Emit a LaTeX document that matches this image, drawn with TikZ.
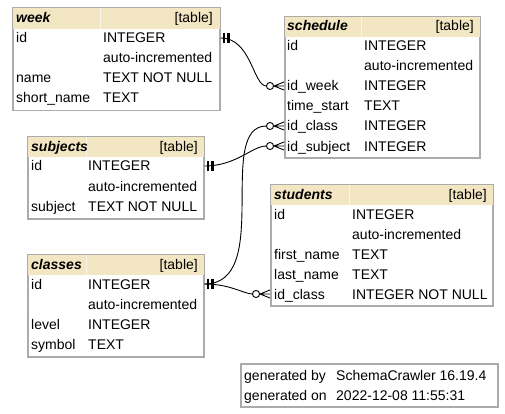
\documentclass[tikz,border=0pt]{standalone}
\usepackage{fontspec}
\setmainfont{Liberation Sans}
\usetikzlibrary{arrows.meta}
\definecolor{headtan}{HTML}{F2E6C3}
\definecolor{boxgray}{HTML}{ABABAB}

\begin{document}
\begin{tikzpicture}[
    x=1pt,
    y=-1pt,
    every node/.style={font=\fontsize{14}{16}\selectfont, inner sep=0pt},
    tbox/.style={draw=boxgray, line width=1.5pt, fill=white, anchor=north west},
    cell/.style={anchor=west, text height=10pt, text depth=0pt},
    tname/.style={cell, font=\fontsize{14}{16}\selectfont\bfseries\itshape},
    ttag/.style={anchor=east, text height=10pt, text depth=0pt},
    headfill/.style={fill=headtan},
    headsep/.style={draw=headtan!35!white, line width=0.8pt},
    rel/.style={draw, line width=0.9pt, -{Circle[open,length=8pt,width=8pt]}, shorten >=10pt},
    bars/.pic={\draw[line width=2.6pt] (3.5,-5) -- (3.5,5) (7.7,-5) -- (7.7,5);},
    crow/.pic={\draw[line width=0.9pt] (0,0) -- (-10,0) (0,-4) -- (-10,0) -- (0,4);}
]
    \useasboundingbox (0,0) rectangle (505,414);

    % week
    \node[tbox, minimum width=207, minimum height=103] (week) at (12,7) {};
    \fill[headfill] ([shift={(1,1)}]week.north west) rectangle ([shift={(-1,22)}]week.north east);
    \draw[headsep] (100,8) -- (100,29);
    \node[tname] at (16,18) {week};
    \node[ttag] at (213,18) {[table]};
    \foreach \f/\t [count=\i] in {id/INTEGER, {}/auto-incremented, name/TEXT NOT NULL, short\_name/TEXT} {
        \node[cell] (week-\i) at (16,18+20*\i) {\f};
        \node[cell] at (103,18+20*\i) {\t};
    }

    % schedule
    \node[tbox, minimum width=195, minimum height=141] (schedule) at (284,16) {};
    \fill[headfill] ([shift={(1,1)}]schedule.north west) rectangle ([shift={(-1,21)}]schedule.north east);
    \draw[headsep] (361,17) -- (361,37);
    \node[tname] at (287,26) {schedule};
    \node[ttag] at (474,26) {[table]};
    \foreach \f/\t [count=\i] in {id/INTEGER, {}/auto-incremented, id\_week/INTEGER, time\_start/TEXT, id\_class/INTEGER, id\_subject/INTEGER} {
        \node[cell] (schedule-\i) at (287,26+20*\i) {\f};
        \node[cell] at (364,26+20*\i) {\t};
    }

    % subjects
    \node[tbox, minimum width=176, minimum height=82] (subjects) at (27,136) {};
    \fill[headfill] ([shift={(1,1)}]subjects.north west) rectangle ([shift={(-1,21)}]subjects.north east);
    \draw[headsep] (86,137) -- (86,157);
    \node[tname] at (31,146) {subjects};
    \node[ttag] at (198,146) {[table]};
    \foreach \f/\t [count=\i] in {id/INTEGER, {}/auto-incremented, subject/TEXT NOT NULL} {
        \node[cell] (subjects-\i) at (31,146+20*\i) {\f};
        \node[cell] at (88,146+20*\i) {\t};
    }

    % classes
    \node[tbox, minimum width=176, minimum height=102] (classes) at (27,254) {};
    \fill[headfill] ([shift={(1,1)}]classes.north west) rectangle ([shift={(-1,21)}]classes.north east);
    \draw[headsep] (86,255) -- (86,275);
    \node[tname] at (31,264) {classes};
    \node[ttag] at (198,264) {[table]};
    \foreach \f/\t [count=\i] in {id/INTEGER, {}/auto-incremented, level/INTEGER, symbol/TEXT} {
        \node[cell] (classes-\i) at (31,264+20*\i) {\f};
        \node[cell] at (88,264+20*\i) {\t};
    }

    % students
    \node[tbox, minimum width=222, minimum height=121] (students) at (270,184) {};
    \fill[headfill] ([shift={(1,1)}]students.north west) rectangle ([shift={(-1,21)}]students.north east);
    \draw[headsep] (349,185) -- (349,205);
    \node[tname] at (274,194) {students};
    \node[ttag] at (487,194) {[table]};
    \foreach \f/\t [count=\i] in {id/INTEGER, {}/auto-incremented, first\_name/TEXT, last\_name/TEXT, id\_class/INTEGER NOT NULL} {
        \node[cell] (students-\i) at (274,194+20*\i) {\f};
        \node[cell] at (352,194+20*\i) {\t};
    }

    % footer
    \node[tbox, minimum width=257, minimum height=43] (info) at (240,363) {};
    \node[cell] (info-1) at (244,375) {generated by};
    \node[cell] at (336,375) {SchemaCrawler 16.19.4};
    \node[cell] (info-2) at (244,395) {generated on};
    \node[cell] at (336,395) {2022-12-08 11:55:31};

    % relations
    \draw[rel] (week-1 -| week.east) to[out=0, in=180] (schedule-3 -| schedule.west);
    \pic at (week-1 -| week.east) {bars};
    \pic at (schedule-3 -| schedule.west) {crow};
    \draw[rel] (subjects-1 -| subjects.east) to[out=0, in=180] (schedule-6 -| schedule.west);
    \pic at (subjects-1 -| subjects.east) {bars};
    \pic at (schedule-6 -| schedule.west) {crow};
    \draw[rel] (classes-1 -| classes.east) to[out=0, in=180] (schedule-5 -| schedule.west);
    \pic at (schedule-5 -| schedule.west) {crow};
    \draw[rel] (classes-1 -| classes.east) to[out=0, in=180] (students-5 -| students.west);
    \pic at (classes-1 -| classes.east) {bars};
    \pic at (students-5 -| students.west) {crow};
\end{tikzpicture}
\end{document}
